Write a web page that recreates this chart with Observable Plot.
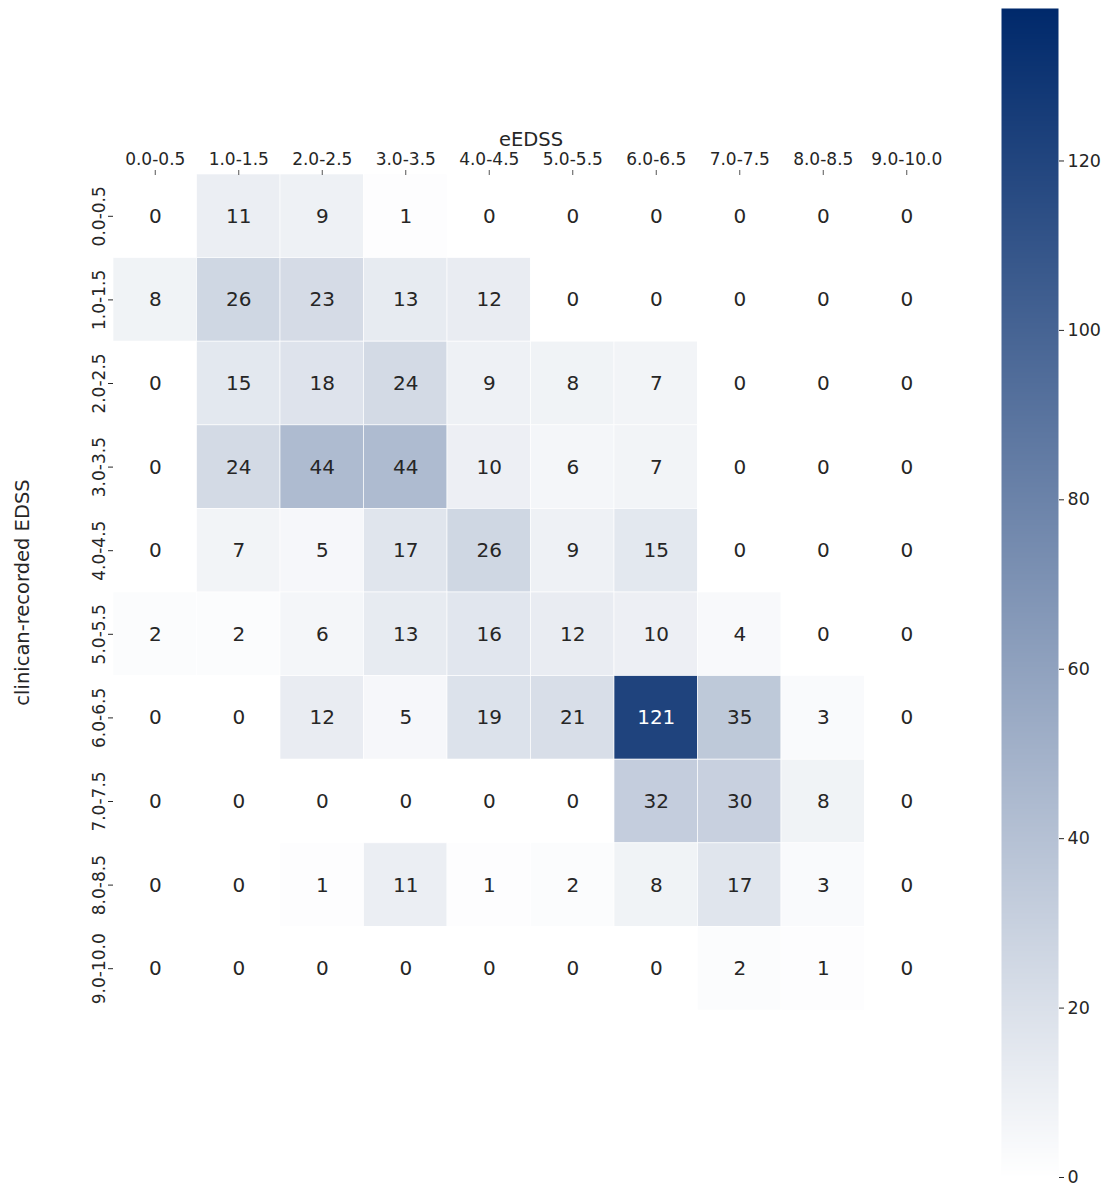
<!DOCTYPE html>
<html>
<head>
<meta charset="utf-8">
<script src="https://cdn.jsdelivr.net/npm/d3@7"></script>
<script src="https://cdn.jsdelivr.net/npm/@observablehq/plot@0.6"></script>
<style>
  html, body { margin: 0; padding: 0; background: #fff; }
  #wrap { position: relative; width: 1114px; height: 1186px; font-family: "DejaVu Sans", sans-serif; }
  #wrap > div, #wrap > svg { position: absolute; top: 0; }
</style>
</head>
<body>
<div id="wrap"></div>
<script>
// EDSS score bands (shared by both axes)
const bands = ["0.0-0.5", "1.0-1.5", "2.0-2.5", "3.0-3.5", "4.0-4.5",
               "5.0-5.5", "6.0-6.5", "7.0-7.5", "8.0-8.5", "9.0-10.0"];

// Counts: one row per clinician-recorded band, one column per eEDSS band
const counts = [
  [0, 11,  9,  1,  0,  0,   0,  0, 0, 0],
  [8, 26, 23, 13, 12,  0,   0,  0, 0, 0],
  [0, 15, 18, 24,  9,  8,   7,  0, 0, 0],
  [0, 24, 44, 44, 10,  6,   7,  0, 0, 0],
  [0,  7,  5, 17, 26,  9,  15,  0, 0, 0],
  [2,  2,  6, 13, 16, 12,  10,  4, 0, 0],
  [0,  0, 12,  5, 19, 21, 121, 35, 3, 0],
  [0,  0,  0,  0,  0,  0,  32, 30, 8, 0],
  [0,  0,  1, 11,  1,  2,   8, 17, 3, 0],
  [0,  0,  0,  0,  0,  0,   0,  2, 1, 0]
];

const colorbarTicks = [0, 20, 40, 60, 80, 100, 120];
const colorMax = 138;

const cells = counts.flatMap((row, i) =>
  row.map((n, j) => ({clin: bands[i], eedss: bands[j], n})));

const colorScale = {
  type: "linear",
  domain: [0, colorMax],
  interpolate: d3.interpolateRgb("#ffffff", "#00296b")
};

const font = "DejaVu Sans, sans-serif";

const heat = Plot.plot({
  width: 1000,
  height: 1186,
  marginLeft: 113,
  marginRight: 52,
  marginTop: 174,
  marginBottom: 176,
  style: {fontFamily: font, fontSize: "17px", color: "#262626", background: "transparent"},
  x: {domain: bands, padding: 0, round: false, axis: null},
  y: {domain: bands, padding: 0, round: false, axis: null},
  color: colorScale,
  marks: [
    Plot.cell(cells, {x: "eedss", y: "clin", fill: "n", stroke: "#ffffff", strokeWidth: 0.8, strokeOpacity: 0.8}),
    Plot.text(cells, {x: "eedss", y: "clin", text: d => String(d.n),
      fill: d => d.n > 100 ? "#ffffff" : "#262626", fontSize: 20}),
    Plot.axisX({anchor: "top", tickSize: 5, tickPadding: 5, stroke: "#555", fontSize: 17,
      label: null}),
    Plot.axisY({anchor: "left", tickSize: 5, tickPadding: 4, tickRotate: -90, fontSize: 17,
      label: null}),
    Plot.text(["eEDSS"], {frameAnchor: "top", dy: -29, fontSize: 19.5, fill: "#262626",
      lineAnchor: "bottom"}),
    Plot.text(["clinican-recorded EDSS"], {frameAnchor: "left", dx: -91, rotate: -90,
      textAnchor: "middle", fontSize: 19.5, fill: "#262626"})
  ]
});
heat.style.left = "0px";
heat.style.overflow = "visible";

// Colour bar drawn through the same colour scale
const bar = Plot.plot({
  width: 124,
  height: 1186,
  marginLeft: 11,
  marginRight: 56,
  marginTop: 8,
  marginBottom: 9,
  style: {fontFamily: font, fontSize: "17.5px", color: "#262626", background: "transparent"},
  x: {domain: [0, 1], axis: null},
  y: {domain: [0, colorMax], axis: null},
  color: colorScale,
  marks: [
    Plot.raster({fill: (x, y) => y, x1: 0, x2: 1, y1: 0, y2: colorMax, pixelSize: 1}),
    Plot.axisY({anchor: "right", ticks: colorbarTicks, tickSize: 5, tickPadding: 4,
      fontSize: 17.5, label: null})
  ]
});
bar.style.left = "990px";

const wrap = document.getElementById("wrap");
wrap.appendChild(heat);
wrap.appendChild(bar);
</script>
</body>
</html>
